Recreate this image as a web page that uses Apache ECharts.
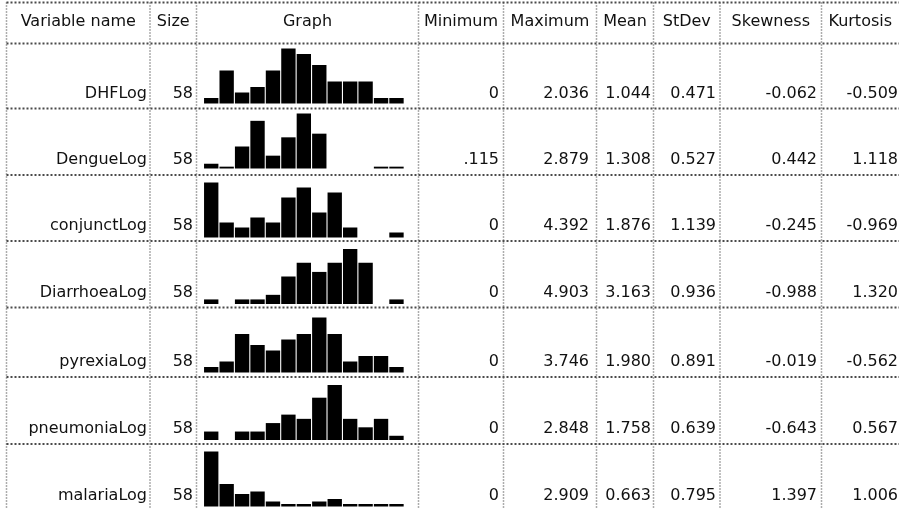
<!DOCTYPE html>
<html>
<head>
<meta charset="utf-8">
<script src="https://cdn.jsdelivr.net/npm/echarts@6/dist/echarts.min.js"></script>
<style>
  html, body { margin: 0; padding: 0; background: #fff; }
  #chart { width: 899px; height: 509px; }
</style>
</head>
<body>
<div id="chart"></div>
<script>
// ---- Summary statistics table ----
const headers = ['Variable name', 'Size', 'Graph', 'Minimum', 'Maximum', 'Mean', 'StDev', 'Skewness', 'Kurtosis'];
const variableNames = ['DHFLog', 'DengueLog', 'conjunctLog', 'DiarrhoeaLog', 'pyrexiaLog', 'pneumoniaLog', 'malariaLog'];
const sizes = ['58', '58', '58', '58', '58', '58', '58'];
const minimums = ['0', '.115', '0', '0', '0', '0', '0'];
const maximums = ['2.036', '2.879', '4.392', '4.903', '3.746', '2.848', '2.909'];
const means = ['1.044', '1.308', '1.876', '3.163', '1.980', '1.758', '0.663'];
const stdevs = ['0.471', '0.527', '1.139', '0.936', '0.891', '0.639', '0.795'];
const skewness = ['-0.062', '0.442', '-0.245', '-0.988', '-0.019', '-0.643', '1.397'];
const kurtosis = ['-0.509', '1.118', '-0.969', '1.320', '-0.562', '0.567', '1.006'];

// ---- Histogram bin frequencies (13 bins per variable) ----
const binLabels = ['1', '2', '3', '4', '5', '6', '7', '8', '9', '10', '11', '12', '13'];
const dhfBins       = [1, 6, 2, 3, 6, 10, 9, 7, 4, 4, 4, 1, 1];
const dengueBins    = [1.3, 0.5, 6, 13, 3.5, 8.5, 15, 9.5, 0, 0, 0, 0.5, 0.5];
const conjunctBins  = [11, 3, 2, 4, 3, 8, 10, 5, 9, 2, 0, 0, 1];
const diarrhoeaBins = [1, 0, 1, 1, 2, 6, 9, 7, 9, 12, 9, 0, 1];
const pyrexiaBins   = [1, 2, 7, 5, 4, 6, 7, 10, 7, 2, 3, 3, 1];
const pneumoniaBins = [2, 0, 2, 2, 4, 6, 5, 10, 13, 5, 3, 5, 1];
const malariaBins   = [22, 9, 5, 6, 2, 1, 1, 2, 3, 1, 1, 1, 1];
const histograms = [dhfBins, dengueBins, conjunctBins, diarrhoeaBins, pyrexiaBins, pneumoniaBins, malariaBins];

// ---- Layout ----
const colEdges = [6.5, 150, 196.5, 418.5, 503.5, 596.5, 653.5, 720, 821.5];
const tableTop = 2.5;
const headerBottom = 43.5;
const rowBottoms = [108.5, 175, 241, 307.5, 377, 444, 511];
const baseOffsets = [5, 6.5, 3.5, 3.5, 4.5, 4, 4.5];
const barAreaHeight = 55;
const histLeft = 203.5;
const histWidth = 200.7;
const font = '16px "DejaVu Sans", Verdana, sans-serif';
const textColor = '#111';

const graphics = [];

// grid lines
colEdges.forEach(x => {
  graphics.push({
    type: 'line', silent: true,
    shape: { x1: x, y1: tableTop, x2: x, y2: 509 },
    style: { stroke: '#5a5a5a', lineWidth: 1.5, lineDash: [1, 2] }
  });
});
[tableTop, headerBottom].concat(rowBottoms).forEach(y => {
  graphics.push({
    type: 'line', silent: true,
    shape: { x1: colEdges[0], y1: y, x2: 899, y2: y },
    style: { stroke: '#4a4a4a', lineWidth: 2, lineDash: [2, 2] }
  });
});

// header labels, centred in their columns
const colRights = colEdges.slice(1).concat([899]);
headers.forEach((h, i) => {
  graphics.push({
    type: 'text', silent: true,
    x: (colEdges[i] + colRights[i]) / 2, y: 22,
    style: { text: h, font: font, fill: textColor, align: 'center', verticalAlign: 'middle' }
  });
});

// body cells, right aligned near the bottom of each row
const textColumns = [
  { values: variableNames, right: 147 },
  { values: sizes, right: 193 },
  { values: minimums, right: 499 },
  { values: maximums, right: 589 },
  { values: means, right: 651 },
  { values: stdevs, right: 716 },
  { values: skewness, right: 817 },
  { values: kurtosis, right: 898 }
];
textColumns.forEach(col => {
  col.values.forEach((v, r) => {
    graphics.push({
      type: 'text', silent: true,
      x: col.right, y: rowBottoms[r] - 15,
      style: { text: v, font: font, fill: textColor, align: 'right', verticalAlign: 'middle' }
    });
  });
});

// one small grid per variable for its histogram
const grids = [], xAxes = [], yAxes = [], series = [];
histograms.forEach((bins, i) => {
  const base = rowBottoms[i] - baseOffsets[i];
  grids.push({ left: histLeft, top: base - barAreaHeight, width: histWidth, height: barAreaHeight });
  xAxes.push({ type: 'category', gridIndex: i, data: binLabels, show: false });
  yAxes.push({ type: 'value', gridIndex: i, min: 0, max: Math.max.apply(null, bins), show: false });
  series.push({
    type: 'bar', xAxisIndex: i, yAxisIndex: i, data: bins,
    barCategoryGap: '7%', silent: true,
    itemStyle: { color: '#000' }
  });
});

const chart = echarts.init(document.getElementById('chart'), null, { renderer: 'canvas' });
chart.setOption({
  animation: false,
  backgroundColor: '#fff',
  grid: grids,
  xAxis: xAxes,
  yAxis: yAxes,
  series: series,
  graphic: graphics
});
</script>
</body>
</html>
